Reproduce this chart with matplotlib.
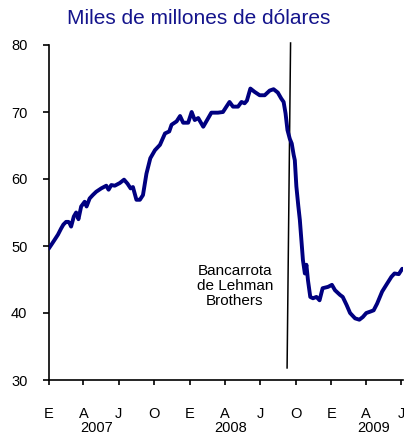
import pandas as pd
import matplotlib
matplotlib.use("Agg")
import matplotlib.pyplot as plt
import matplotlib.transforms as mtransforms

plt.rcParams["font.family"] = ["Liberation Sans", "DejaVu Sans"]

# weekly-ish readings, billions of dollars
DATES = [
    "2007-01-01", "2007-01-08", "2007-01-16", "2007-01-25", "2007-02-02", "2007-02-08",
    "2007-02-15", "2007-02-21", "2007-02-24", "2007-02-28", "2007-03-07", "2007-03-13",
    "2007-03-19", "2007-03-26", "2007-04-04", "2007-04-09", "2007-04-17", "2007-04-25",
    "2007-05-04", "2007-05-17", "2007-05-30", "2007-06-05", "2007-06-12", "2007-06-21",
    "2007-07-04", "2007-07-15", "2007-07-24", "2007-08-01", "2007-08-07", "2007-08-16",
    "2007-08-25", "2007-09-02", "2007-09-11", "2007-09-21", "2007-10-03", "2007-10-16",
    "2007-10-29", "2007-11-09", "2007-11-15", "2007-11-28", "2007-12-07", "2007-12-15",
    "2007-12-28", "2008-01-06", "2008-01-14", "2008-01-23", "2008-02-05", "2008-02-15",
    "2008-02-26", "2008-03-14", "2008-03-27", "2008-04-05", "2008-04-13", "2008-04-22",
    "2008-05-05", "2008-05-14", "2008-05-22", "2008-05-28", "2008-06-06", "2008-06-17",
    "2008-06-30", "2008-07-13", "2008-07-26", "2008-08-05", "2008-08-16", "2008-08-25",
    "2008-08-31", "2008-09-05", "2008-09-10", "2008-09-16", "2008-09-21", "2008-09-26",
    "2008-09-29", "2008-10-03", "2008-10-08", "2008-10-12", "2008-10-20", "2008-10-25",
    "2008-10-29", "2008-11-02", "2008-11-08", "2008-11-15", "2008-11-24", "2008-12-02",
    "2008-12-10", "2008-12-24", "2009-01-03", "2009-01-11", "2009-01-24", "2009-01-31",
    "2009-02-10", "2009-02-19", "2009-03-04", "2009-03-15", "2009-03-24", "2009-04-02",
    "2009-04-12", "2009-04-21", "2009-04-30", "2009-05-13", "2009-05-26", "2009-06-06",
    "2009-06-14", "2009-06-25", "2009-07-04",
]
VALUES = [
    49.6, 50.2, 50.9, 51.7, 52.6, 53.2,
    53.6, 53.6, 53.4, 52.9, 54.4, 55.0,
    54.0, 55.9, 56.6, 55.9, 57.1, 57.6,
    58.1, 58.6, 59.0, 58.4, 59.1, 59.0,
    59.4, 59.9, 59.3, 58.6, 58.8, 56.9,
    56.9, 57.6, 60.8, 63.1, 64.3, 65.1,
    66.8, 67.1, 68.1, 68.6, 69.4, 68.4,
    68.4, 70.0, 68.8, 69.1, 67.8, 68.8,
    69.9, 69.9, 70.0, 70.8, 71.5, 70.8,
    70.8, 71.5, 71.3, 71.7, 73.5, 73.0,
    72.5, 72.5, 73.2, 73.4, 72.9, 72.0,
    71.5, 69.8, 67.3, 66.0, 65.3, 63.6,
    62.8, 58.9, 56.0, 53.9, 47.9, 45.9,
    47.2, 44.9, 42.4, 42.2, 42.4, 41.9,
    43.7, 43.9, 44.2, 43.4, 42.7, 42.4,
    41.2, 40.0, 39.2, 39.0, 39.4, 40.0,
    40.2, 40.4, 41.4, 43.2, 44.4, 45.4,
    45.9, 45.8, 46.6,
]

TICK_DATES = ["2007-01-01", "2007-04-01", "2007-07-01", "2007-10-01",
              "2008-01-01", "2008-04-01", "2008-07-01", "2008-10-01",
              "2009-01-01", "2009-04-01", "2009-07-01"]
TICK_LABELS = ["E", "A", "J", "O", "E", "A", "J", "O", "E", "A", "J"]
YEARS = ["2007", "2008", "2009"]
YEAR_POS = ["2007-05-05", "2008-04-16", "2009-04-21"]

LEHMAN_LINE_X = ["2008-09-09", "2008-09-18"]
LEHMAN_LINE_Y = [31.8, 80.3]

NAVY = "#000080"

fig = plt.figure(figsize=(4.04, 4.37), dpi=100)
ax = fig.add_axes([48.7 / 404, 1 - 380 / 437, (403 - 48.7) / 404, (380 - 45) / 437])

dates = pd.to_datetime(DATES)
ax.plot(dates, VALUES, color=NAVY, lw=2.8, solid_joinstyle="round",
        solid_capstyle="round", zorder=3)
ax.plot(pd.to_datetime(LEHMAN_LINE_X), LEHMAN_LINE_Y, color="black", lw=1.1,
        zorder=2, clip_on=False)

ax.text(pd.Timestamp("2008-04-27"), 44.0, "Bancarrota\nde Lehman\nBrothers",
        ha="center", va="center", multialignment="center", fontsize=11,
        linespacing=1.1)

ax.set_ylim(30, 80)
ax.set_yticks([30, 40, 50, 60, 70, 80])
ax.set_xlim(pd.Timestamp("2007-01-01"), pd.Timestamp("2009-07-06"))
ax.set_xticks(pd.to_datetime(TICK_DATES))
ax.set_xticklabels(TICK_LABELS)

for side in ["top", "right"]:
    ax.spines[side].set_visible(False)
for side in ["left", "bottom"]:
    ax.spines[side].set_linewidth(1.2)
ax.tick_params(axis="y", direction="out", length=4.3, width=1.2, pad=11, labelsize=10.5)
ax.tick_params(axis="x", direction="out", length=3.8, width=1.2, pad=16, labelsize=10.5)

trans = mtransforms.blended_transform_factory(ax.transData, ax.transAxes)
for yr, pos in zip(YEARS, YEAR_POS):
    ax.text(pd.Timestamp(pos), -0.143, yr, transform=trans, ha="center",
            va="center", fontsize=10.5)

fig.text(199 / 404, 1 - 19 / 437, "Miles de millones de dólares", ha="center",
         va="center", fontsize=15, color="#14148c")

fig.savefig("out.png", dpi=100)
